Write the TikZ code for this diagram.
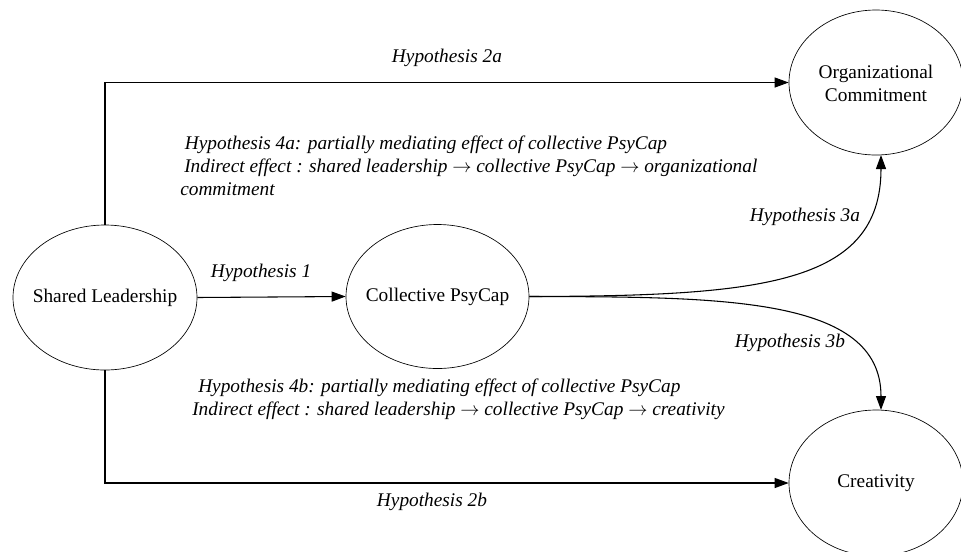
\documentclass[tikz,border=0pt]{standalone}
\usepackage{fontspec}
\setmainfont{Liberation Serif}
\usetikzlibrary{arrows.meta,shapes.geometric}
\begin{document}
\begin{tikzpicture}[x=0.75pt,y=-0.75pt,
  construct/.style={draw,ellipse,line width=0.5pt,inner sep=0pt},
  ctext/.style={align=center,inner sep=0pt,font=\fontsize{14.5}{17.25}\selectfont},
  link/.style={line width=0.8pt,-{Triangle[length=10.5pt,width=7.5pt]}},
  hyp/.style={font=\fontsize{14.5}{17}\selectfont\itshape},
  note/.style={font=\fontsize{14.5}{17.25}\selectfont\itshape,align=left,inner sep=0pt}]
\useasboundingbox (0,0) rectangle (961,551);
\node[construct,minimum width=184*0.75pt,minimum height=145*0.75pt] (sl) at (105,297.5) {};
\node[construct,minimum width=183*0.75pt,minimum height=144*0.75pt] (cp) at (437.5,296.5) {};
\node[construct,minimum width=174*0.75pt,minimum height=145*0.75pt] (oc) at (876,82.5) {};
\node[construct,minimum width=174*0.75pt,minimum height=146*0.75pt] (cr) at (876,483) {};
\node[ctext] (slt) at (sl) {Shared Leadership};
\node[ctext] (cpt) at (cp) {Collective PsyCap};
\node[ctext] (oct) at (876,83.5) {Organizational\\Commitment};
\node[ctext] (crt0) at (cr) {Creativity};
\coordinate (ocb) at (881,155);
\coordinate (crt) at (881,410);
\draw[link] (sl.north) |- (oc.west);
\draw[link] (sl.south) |- (cr.west);
\draw[link] (sl.east) -- (cp.west);
\draw[link] (cp.east) .. controls (760,296) and (881,285) .. (ocb);
\draw[link] (cp.east) .. controls (720,297) and (881,296) .. (crt);
\node[hyp] (h2a) at (447,58) {Hypothesis 2a};
\node[hyp] (h2b) at (432,502) {Hypothesis 2b};
\node[hyp] (h1) at (261,273) {Hypothesis 1};
\node[hyp] (h3a) at (805,217) {Hypothesis 3a};
\node[hyp] (h3b) at (790,343) {Hypothesis 3b};
\node[note,anchor=west] (h4a) at (180,166) {\hspace{3.5pt}Hypothesis 4a: partially mediating effect of collective PsyCap\\\hspace{3pt}Indirect effect : shared leadership $\rightarrow$ collective PsyCap $\rightarrow$ organizational\\commitment};
\node[note,anchor=west] (h4b) at (192,399.5) {\hspace{4.5pt}Hypothesis 4b: partially mediating effect of collective PsyCap\\Indirect effect : shared leadership $\rightarrow$ collective PsyCap $\rightarrow$ creativity};
\end{tikzpicture}
\end{document}
